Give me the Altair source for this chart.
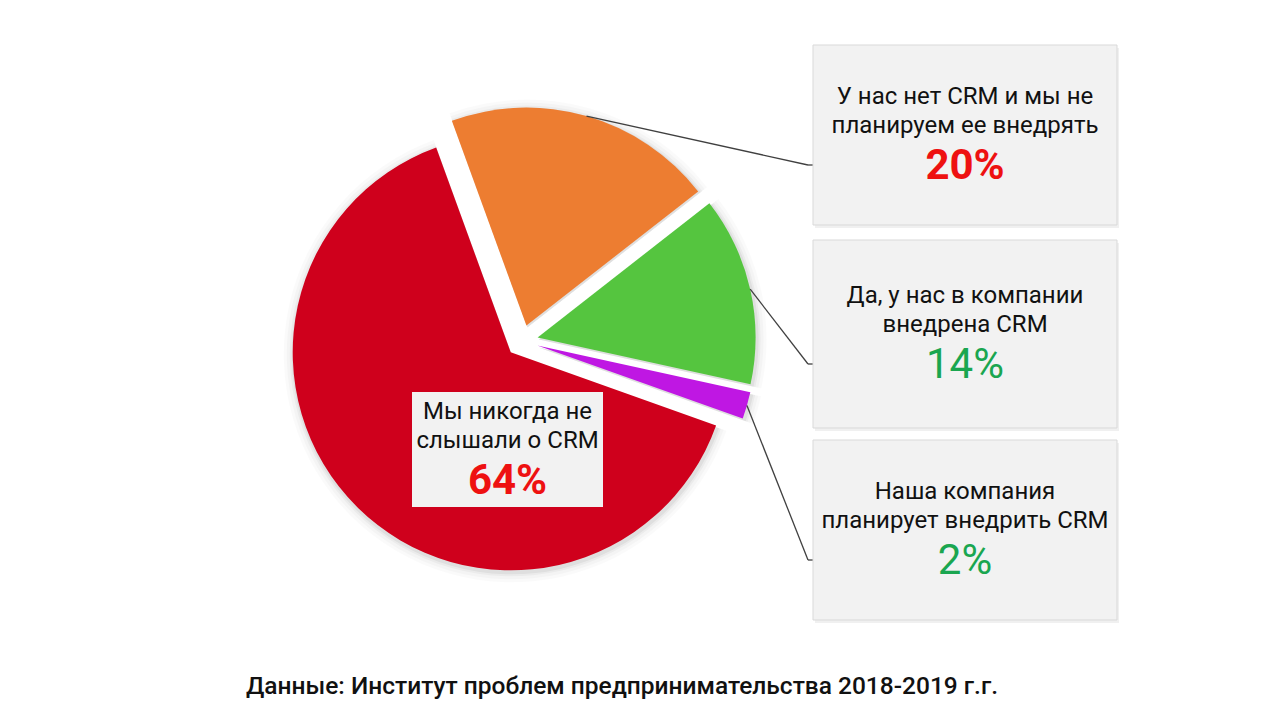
import altair as alt
import pandas as pd
import numpy as np

# ---- data (clockwise order starting at the top-left edge of the red slice) ----
categories = ["У нас нет CRM и мы не планируем ее внедрять",
              "Да, у нас в компании внедрена CRM",
              "Наша компания планирует внедрить CRM",
              "Мы никогда не слышали о CRM"]
line1 = ["У нас нет CRM и мы не", "Да, у нас в компании", "Наша компания", "Мы никогда не"]
line2 = ["планируем ее внедрять", "внедрена CRM", "планирует внедрить CRM", "слышали о CRM"]
values = [20, 14, 2, 64]
pct_text = ["20%", "14%", "2%", "64%"]
slice_colors = ["#ed7d31", "#55c53f", "#bf17e3", "#cf001c"]
pct_colors = ["#ee1111", "#1aa650", "#1aa650", "#ee1111"]
pct_bold = [True, False, False, True]
footer = "Данные: Институт проблем предпринимательства 2018-2019 г.г."

# ---- layout (style / positions) ----
CX, CY = 522, 341          # pie centre in px
R = 218                    # pie radius
EXPLODE = 16               # explode distance
START_DEG = 340            # angle of first slice start (clockwise from 12 o'clock)
BOX_X0, BOX_X1 = 813, 1117
box_y0 = [45, 240, 440]
box_y1 = [225, 428, 620]
RED_BOX = (412, 392, 603, 507)
ELBOW_X = 808

total = float(sum(values))
cum = np.concatenate([[0], np.cumsum(values)])
start = np.radians(START_DEG) + 2 * np.pi * cum[:-1] / total
end = np.radians(START_DEG) + 2 * np.pi * cum[1:] / total
mid = (start + end) / 2
cx = CX + EXPLODE * np.sin(mid)
cy = CY - EXPLODE * np.cos(mid)

pie = pd.DataFrame({"cat": categories, "start": start, "end": end,
                    "cx": cx, "cy": cy, "color": slice_colors})
pie["sx"] = pie["cx"] + 1
pie["sy"] = pie["cy"] + 2

W, H = 1280, 720

def base(df):
    return alt.Chart(df)

shadow_layers = []
for extra, op in [(10, 0.018), (7, 0.025), (4, 0.035), (2, 0.05)]:
    shadow_layers.append(
        base(pie).mark_arc(radius=R + extra, color="#000000", opacity=op).encode(
            x=alt.X("sx:Q", scale=None), y=alt.Y("sy:Q", scale=None),
            theta=alt.Theta("start:Q", scale=None, stack=None), theta2="end:Q"))

slices = base(pie).mark_arc(radius=R).encode(
    x=alt.X("cx:Q", scale=None), y=alt.Y("cy:Q", scale=None),
    theta=alt.Theta("start:Q", scale=None, stack=None), theta2="end:Q",
    color=alt.Color("color:N", scale=None))

# boxes
boxes = pd.DataFrame({
    "x0": [BOX_X0] * 3 + [RED_BOX[0]],
    "x1": [BOX_X1] * 3 + [RED_BOX[2]],
    "y0": box_y0 + [RED_BOX[1]],
    "y1": box_y1 + [RED_BOX[3]],
})
boxes["yc"] = (boxes["y0"] + boxes["y1"]) / 2
boxes["xc"] = (boxes["x0"] + boxes["x1"]) / 2
gray = boxes.iloc[:3].copy()
for c in ["x0", "x1"]:
    gray[c + "s"] = gray[c] + 2
for c in ["y0", "y1"]:
    gray[c + "s"] = gray[c] + 3

box_shadow = base(gray).mark_rect(color="#000000", opacity=0.06).encode(
    x=alt.X("x0s:Q", scale=None), x2="x1s:Q",
    y=alt.Y("y0s:Q", scale=None), y2="y1s:Q")
box_rects = base(gray).mark_rect(fill="#f2f2f2", stroke="#d9d9d9", strokeWidth=1).encode(
    x=alt.X("x0:Q", scale=None), x2="x1:Q",
    y=alt.Y("y0:Q", scale=None), y2="y1:Q")
red_box = base(boxes.iloc[3:]).mark_rect(fill="#f2f2f2").encode(
    x=alt.X("x0:Q", scale=None), x2="x1:Q",
    y=alt.Y("y0:Q", scale=None), y2="y1:Q")

# leader lines: from the outer edge of each slice (at its mid angle) to the box
lines = pd.DataFrame({
    "x": (pie["cx"] + R * np.sin(mid)).iloc[:3].values,
    "y": (pie["cy"] - R * np.cos(mid)).iloc[:3].values,
    "x2": [ELBOW_X] * 3,
    "y2": (boxes["yc"].iloc[:3] + 30).values,
})
lines2 = pd.DataFrame({"x": [ELBOW_X] * 3, "y": lines["y2"].values,
                       "x2": [BOX_X0] * 3, "y2": lines["y2"].values})
leader = alt.layer(
    base(lines).mark_rule(color="#404040", strokeWidth=1.3).encode(
        x=alt.X("x:Q", scale=None), y=alt.Y("y:Q", scale=None), x2="x2:Q", y2="y2:Q"),
    base(lines2).mark_rule(color="#404040", strokeWidth=1.3).encode(
        x=alt.X("x:Q", scale=None), y=alt.Y("y:Q", scale=None), x2="x2:Q", y2="y2:Q"),
)

# texts
txt = pd.DataFrame({"xc": boxes["xc"], "yc": boxes["yc"],
                    "l1": line1, "l2": line2, "pct": pct_text, "pc": pct_colors,
                    "bold": pct_bold})
txt["y1"] = txt["yc"] - 38
txt["y2"] = txt["yc"] - 9
txt["y3"] = txt["yc"] + 31

FONT = "Roboto"
t1 = base(txt).mark_text(font=FONT, fontSize=24, fontWeight="normal", color="#111111",
                         baseline="middle", align="center").encode(
    x=alt.X("xc:Q", scale=None), y=alt.Y("y1:Q", scale=None), text="l1:N")
t2 = base(txt).mark_text(font=FONT, fontSize=24, fontWeight="normal", color="#111111",
                         baseline="middle", align="center").encode(
    x=alt.X("xc:Q", scale=None), y=alt.Y("y2:Q", scale=None), text="l2:N")
p_bold = base(txt[txt["bold"]]).mark_text(font=FONT, fontSize=42, fontWeight="bold",
                                          baseline="middle", align="center").encode(
    x=alt.X("xc:Q", scale=None), y=alt.Y("y3:Q", scale=None), text="pct:N",
    color=alt.Color("pc:N", scale=None))
p_norm = base(txt[~txt["bold"]]).mark_text(font=FONT, fontSize=42, fontWeight="normal",
                                           baseline="middle", align="center").encode(
    x=alt.X("xc:Q", scale=None), y=alt.Y("y3:Q", scale=None), text="pct:N",
    color=alt.Color("pc:N", scale=None))

foot = base(pd.DataFrame({"t": [footer]})).mark_text(
    font=FONT, fontSize=24.5, fontWeight=500, color="#111111", align="center",
    baseline="middle").encode(x=alt.value(622), y=alt.value(687), text="t:N")

chart = alt.layer(*shadow_layers, slices, leader, box_shadow, box_rects, red_box,
                  t1, t2, p_bold, p_norm, foot).properties(
    width=W, height=H, padding=0, autosize=alt.AutoSizeParams(type="none"),
    background="#ffffff").configure_view(stroke=None)

chart.save("out.html", embed_options={"renderer": "svg", "actions": False})
